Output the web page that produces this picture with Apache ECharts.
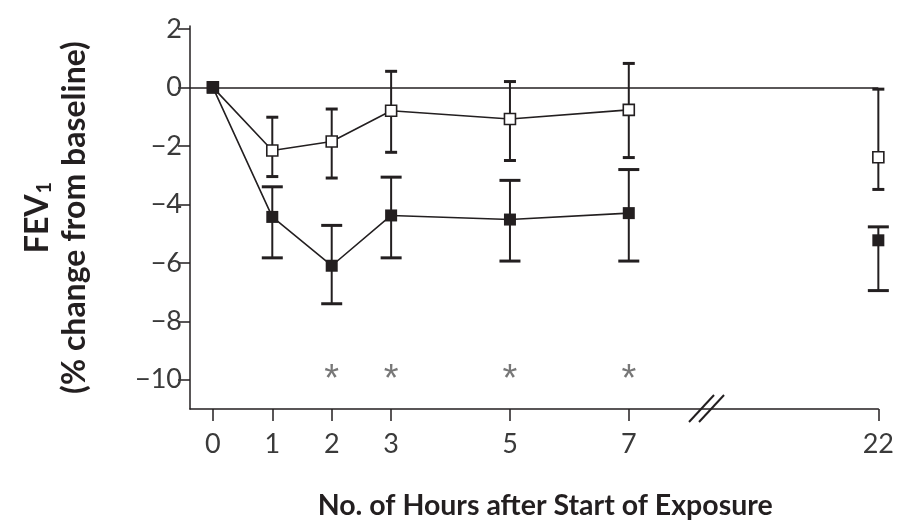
<!DOCTYPE html>
<html>
<head>
<meta charset="utf-8">
<script src="https://cdn.jsdelivr.net/npm/echarts@6/dist/echarts.min.js"></script>
<style>
html,body{margin:0;padding:0;background:#fff;}
#chart{width:897px;height:525px;}
</style>
</head>
<body>
<div id="chart"></div>
<script>
// ---- data ----
const hours = [0, 1, 2, 3, 5, 7, 22];
const openMean = [0, -2.16, -1.85, -0.8, -1.08, -0.77, -2.39];
const openHigh = [null, -1.02, -0.74, 0.55, 0.2, 0.82, -0.06];
const openLow = [null, -3.05, -3.1, -2.22, -2.5, -2.4, -3.49];
const filledMean = [0, -4.43, -6.1, -4.38, -4.52, -4.3, -5.23];
const filledHigh = [null, -3.4, -4.72, -3.07, -3.18, -2.81, -4.77];
const filledLow = [null, -5.83, -7.4, -5.83, -5.94, -5.94, -6.95];
const starHours = [2, 3, 5, 7];
const starValue = -9.7;
const xTickHours = [0, 1, 2, 3, 5, 7, 22];
const yTickValues = [2, 0, -2, -4, -6, -8, -10];
const connectedUpTo = 7; // lines connect points through hour 7

// ---- axis break mapping (hours after 7 are compressed) ----
const BREAK_FROM = 7;
const BREAK_SCALE = 0.28;
const BREAK_MARK_POS = 8.3;
function pos(h) { return h <= BREAK_FROM ? h : BREAK_FROM + (h - BREAK_FROM) * BREAK_SCALE; }
function unpos(p) { return p <= BREAK_FROM + 1e-9 ? p : BREAK_FROM + (p - BREAK_FROM) / BREAK_SCALE; }

const INK = '#231f20';
const TXT = '#3a3a3a';
const FONT = 'Lato, "Open Sans", "Noto Sans", sans-serif';

function pts(means, onlyConnected) {
  const out = [];
  hours.forEach((h, i) => {
    if (!onlyConnected || h <= connectedUpTo) out.push([pos(h), means[i]]);
  });
  return out;
}
function bars(lo, hi) {
  const out = [];
  hours.forEach((h, i) => { if (lo[i] != null) out.push([pos(h), lo[i], hi[i]]); });
  return out;
}
function errorRender(capW) {
  return function (params, api) {
    const x = api.value(0);
    const a = api.coord([x, api.value(1)]);
    const b = api.coord([x, api.value(2)]);
    const st = { stroke: INK, lineWidth: 2 };
    const cap = { stroke: INK, lineWidth: 3 };
    return {
      type: 'group',
      children: [
        { type: 'line', shape: { x1: a[0], y1: a[1], x2: b[0], y2: b[1] }, style: st },
        { type: 'line', shape: { x1: a[0] - capW / 2, y1: a[1], x2: a[0] + capW / 2, y2: a[1] }, style: cap },
        { type: 'line', shape: { x1: b[0] - capW / 2, y1: b[1], x2: b[0] + capW / 2, y2: b[1] }, style: cap }
      ]
    };
  };
}

const chart = echarts.init(document.getElementById('chart'), null, { renderer: 'canvas' });
const option = {
  animation: false,
  backgroundColor: '#fff',
  grid: { left: 190, right: 15, top: 26, bottom: 115, containLabel: false },
  xAxis: {
    type: 'value',
    min: -0.385,
    max: pos(22),
    splitLine: { show: false },
    axisLine: { show: true, onZero: false, lineStyle: { color: INK, width: 1.5 } },
    axisTick: { show: true, length: 12, customValues: xTickHours.map(pos), lineStyle: { color: INK, width: 1.5 } },
    axisLabel: {
      customValues: xTickHours.map(pos),
      formatter: v => String(Math.round(unpos(v))),
      color: TXT, fontFamily: FONT, fontSize: 27, margin: 22
    },
    name: 'No. of Hours after Start of Exposure',
    nameLocation: 'middle',
    nameGap: 82,
    nameTextStyle: { color: INK, fontFamily: FONT, fontSize: 28.5, fontWeight: 'bold', padding: [0, 0, 0, 22] }
  },
  yAxis: {
    type: 'value',
    min: -11,
    max: 2.1,
    splitLine: { show: false },
    axisLine: { show: true, onZero: false, lineStyle: { color: INK, width: 1.5 } },
    axisTick: { show: true, length: 12, customValues: yTickValues, lineStyle: { color: INK, width: 1.5 } },
    axisLabel: {
      customValues: yTickValues,
      formatter: v => (v < 0 ? '\u2212' + Math.abs(v) : String(v)),
      color: TXT, fontFamily: FONT, fontSize: 27, margin: 8
    },
    name: '{a|FEV}{s|1}\n{a|(% change from baseline)}',
    nameLocation: 'middle',
    nameRotate: 90,
    nameGap: 97,
    nameTextStyle: {
      color: INK, fontFamily: FONT, fontSize: 32, fontWeight: 'bold', lineHeight: 37, align: 'center',
      rich: {
        a: { color: INK, fontFamily: FONT, fontSize: 32, fontWeight: 'bold', lineHeight: 37, align: 'center' },
        s: { color: INK, fontFamily: FONT, fontSize: 20, fontWeight: 'bold', lineHeight: 37, align: 'center', padding: [14, 0, 0, 1] }
      }
    }
  },
  series: [
    {
      type: 'line', data: pts(openMean, true), showSymbol: false, z: 3,
      lineStyle: { color: INK, width: 1.6 }, silent: true,
      markLine: {
        silent: true, symbol: 'none', label: { show: false },
        lineStyle: { color: INK, width: 1.5, type: 'solid' },
        data: [{ yAxis: 0 }]
      }
    },
    {
      type: 'line', data: pts(filledMean, true), showSymbol: false, z: 3,
      lineStyle: { color: INK, width: 1.6 }, silent: true
    },
    { type: 'custom', data: bars(openLow, openHigh), renderItem: errorRender(12), z: 4, encode: { x: 0, y: [1, 2] }, silent: true },
    { type: 'custom', data: bars(filledLow, filledHigh), renderItem: errorRender(21), z: 4, encode: { x: 0, y: [1, 2] }, silent: true },
    {
      type: 'scatter', data: pts(openMean, false), symbol: 'rect', symbolSize: 11, z: 6,
      itemStyle: { color: '#fff', borderColor: INK, borderWidth: 1.6, opacity: 1 }, silent: true
    },
    {
      type: 'scatter', data: pts(filledMean, false), symbol: 'rect', symbolSize: 12, z: 7,
      itemStyle: { color: INK, opacity: 1 }, silent: true
    },
    {
      type: 'scatter', data: starHours.map(h => [pos(h), starValue]), symbolSize: 0, z: 5, silent: true,
      label: { show: true, position: 'inside', formatter: '*', color: '#555', fontFamily: '"Liberation Sans", Arial, sans-serif', fontSize: 38, offset: [0, 10] }
    },
    {
      type: 'custom', data: [[BREAK_MARK_POS, -11]], z: 8, silent: true, clip: false,
      renderItem: function (params, api) {
        const c = api.coord([api.value(0), api.value(1)]);
        const st = { stroke: INK, lineWidth: 2 };
        return {
          type: 'group',
          children: [
            { type: 'line', shape: { x1: c[0] - 17, y1: c[1] + 13, x2: c[0] + 8, y2: c[1] - 14 }, style: st },
            { type: 'line', shape: { x1: c[0] - 7, y1: c[1] + 13, x2: c[0] + 18, y2: c[1] - 14 }, style: st }
          ]
        };
      }
    }
  ]
};
chart.setOption(option);
</script>
</body>
</html>
